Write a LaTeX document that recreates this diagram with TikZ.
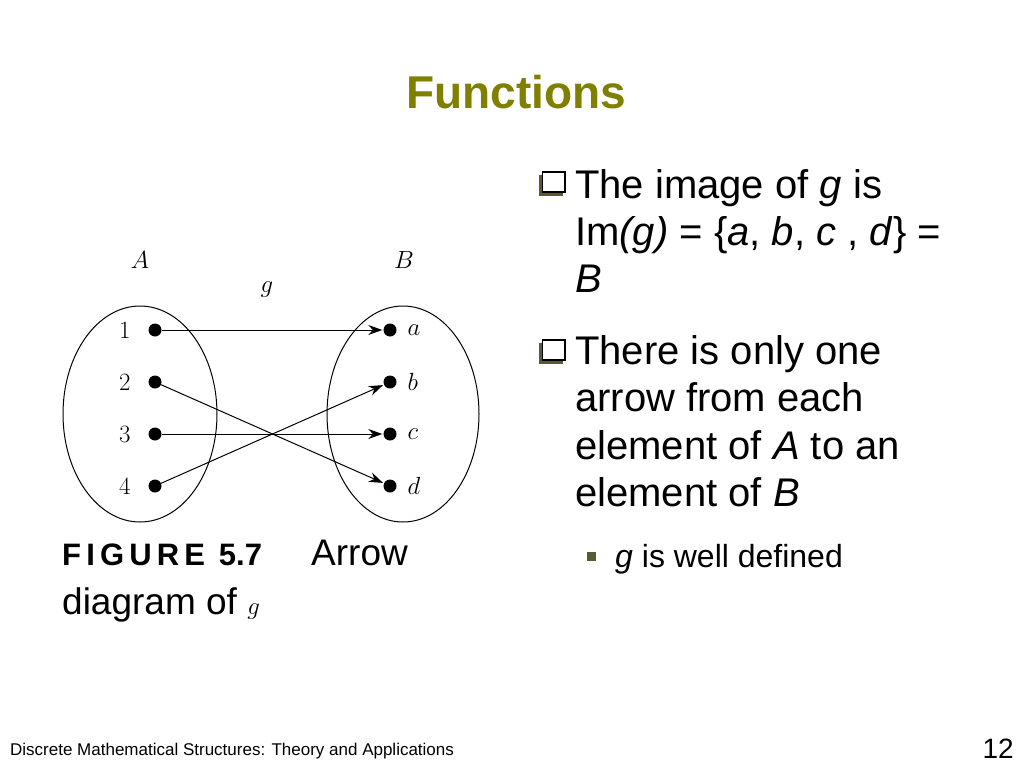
\documentclass[tikz,border=0pt]{standalone}
\usepackage{fontspec}
\setmainfont{Liberation Sans}
\usetikzlibrary{arrows.meta}
\definecolor{olive}{RGB}{128,128,0}
\definecolor{bul}{RGB}{90,90,50}
\begin{document}
\begin{tikzpicture}[x=1pt,y=-1pt,
  dot/.style={circle,fill=black,inner sep=0pt,minimum size=13pt},
  lab/.style={font=\fontsize{30}{30}\selectfont},
  arr/.style={-{Stealth[length=14pt,width=10pt]},line width=1pt,shorten >=1pt},
  body/.style={anchor=base west,inner sep=0pt,font=\fontsize{40}{40}\selectfont}]
\useasboundingbox (0,0) rectangle (1024,768);
\node[font=\bfseries\fontsize{46}{46}\selectfont,text=olive] (title) at (516,92) {Functions};
% ellipses
\draw[line width=1pt] (140,414) ellipse [x radius=77,y radius=108];
\draw[line width=1pt] (403,414) ellipse [x radius=76,y radius=108];
\node[lab] (lA) at (140,260) {$A$};
\node[lab] (lB) at (404,260) {$B$};
\node[lab] (lg) at (267,290) {$g$};
\foreach \i/\y in {1/330,2/382,3/434,4/486}{
  \node[dot] (p\i) at (155,\y) {};
  \node[lab,anchor=east] (n\i) at (134,\y) {$\i$};
}
\foreach \c/\y in {a/330,b/382,c/434,d/486}{
  \node[dot] (q\c) at (390,\y) {};
  \node[lab,anchor=west] (m\c) at (404,\y) {$\c$};
}
\draw[arr] (p1) -- (qa);
\draw[arr] (p2) -- (qd);
\draw[arr] (p3) -- (qc);
\draw[arr] (p4) -- (qb);
\node[anchor=base west,inner sep=0pt,font=\bfseries\fontsize{31}{31}\selectfont] (fig) at (62,565) {F\,I\,G\,U\,R\,E\, 5.7};
\node[anchor=base west,inner sep=0pt,font=\fontsize{37}{37}\selectfont] (arrow) at (311,565) {Arrow};
\node[anchor=base west,inner sep=0pt,font=\fontsize{37}{37}\selectfont] (diag) at (62,614) {diagram of \rmfamily$g$};
% bullets
\foreach \y/\n in {183/b1,351/b2}{
  \fill[bul] (539,\y-8) rectangle (563,\y+13);
  \draw[draw=black,fill=white,line width=1.3pt] (542.5,\y-11) rectangle (565,\y+9);
  \coordinate (\n) at (539,\y);
}
\node[body] (t1) at (575,198) {The image of \textit{g} is};
\node[body] (t2) at (575,245) {Im\textit{(g)} = \{\textit{a}, \textit{b}, \textit{c} , \textit{d}\} =};
\node[body] (t3) at (575,292) {\textit{B}};
\node[body] (t4) at (575,364) {There is only one};
\node[body] (t5) at (575,411) {arrow from each};
\node[body] (t6) at (575,459) {element of \textit{A} to an};
\node[body] (t7) at (575,506) {element of \textit{B}};
\fill[bul] (587,552) rectangle (596,561);
\node[anchor=base west,inner sep=0pt,font=\fontsize{32}{32}\selectfont] (t8) at (615,567) {\textit{g} is well defined};
\node[anchor=base west,inner sep=0pt,font=\fontsize{17}{17}\selectfont] (foot) at (10,755) {Discrete Mathematical Structures: Theory and Applications};
\node[anchor=base east,inner sep=0pt,font=\fontsize{28}{28}\selectfont] (pg) at (1014,758) {12};
\end{tikzpicture}
\end{document}
